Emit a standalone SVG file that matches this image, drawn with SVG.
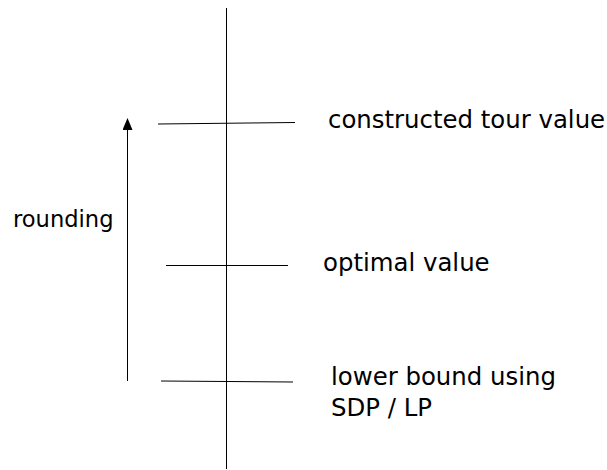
<svg xmlns="http://www.w3.org/2000/svg" width="607" height="470" viewBox="0 0 607 470">
<style>
.ln{stroke:#000;stroke-width:1;fill:none}
.t{font-family:"DejaVu Sans",sans-serif;font-size:24.4px;fill:#000}
</style>
<defs>
<marker id="ah" viewBox="0 0 12 10" refX="11" refY="5" markerWidth="12" markerHeight="10" markerUnits="userSpaceOnUse" orient="auto">
<path d="M0,0 L12,5 L0,10 Z" fill="#000"/>
</marker>
</defs>
<rect width="607" height="470" fill="#fff"/>
<g id="connectors">
<line class="ln" x1="226.5" y1="8" x2="226.5" y2="469"/>
<line class="ln" x1="158" y1="124" x2="295" y2="122.5"/>
<line class="ln" x1="166" y1="265.5" x2="288" y2="265.5"/>
<line class="ln" x1="161" y1="381" x2="293" y2="382"/>
<line class="ln" x1="127.5" y1="381" x2="127.5" y2="119" marker-end="url(#ah)"/>
</g>
<g id="label-constructed"><text class="t" x="328" y="128">constructed tour value</text></g>
<g id="label-optimal"><text class="t" x="323" y="271">optimal value</text></g>
<g id="label-lower"><text class="t" x="331" y="385">lower bound using</text><text class="t" x="331" y="416">SDP / LP</text></g>
<g id="label-rounding"><text class="t" x="13" y="227" style="font-size:22.6px">rounding</text></g>
</svg>
